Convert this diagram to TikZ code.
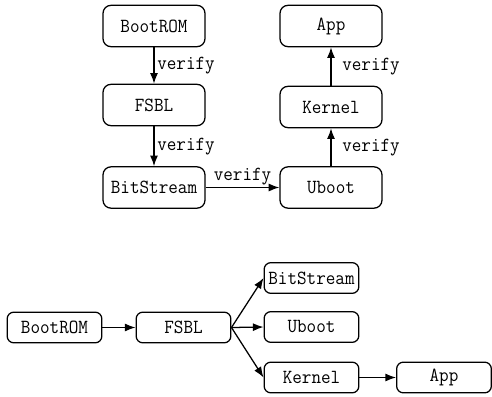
\documentclass[tikz,border=0pt]{standalone}
\usetikzlibrary{arrows.meta}
\newcommand{\nt}[1]{\scalebox{0.93}[1]{#1}}
\begin{document}
\begin{tikzpicture}[x=0.75pt,y=-0.75pt,
  every node/.style={font=\ttfamily\fontsize{15}{17}\selectfont},
  bigbox/.style={draw,line width=0.95pt,rounded corners=6pt,minimum width=76.5pt,minimum height=31pt,inner sep=0pt},
  smallbox/.style={draw,line width=0.95pt,rounded corners=5pt,minimum width=71pt,minimum height=23pt,inner sep=0pt},
  arr/.style={line width=0.95pt,-{Latex[length=8pt,width=6pt]}},
  lbl/.style={inner sep=2pt}]
\useasboundingbox (0,0) rectangle (492,396);

% secure boot chain with verification
\node[bigbox] (rom)  at (154,26)    {\nt{BootROM}};
\node[bigbox] (fsbl) at (154,105)   {\nt{FSBL}};
\node[bigbox] (bit)  at (154,187.5) {\nt{BitStream}};
\node[bigbox] (ub)   at (331,187.5) {\nt{Uboot}};
\node[bigbox] (ker)  at (331,107)   {\nt{Kernel}};
\node[bigbox] (app)  at (331,26)    {\nt{App}};

\draw[arr] (rom)  -- node[lbl,right] {\nt{verify}} (fsbl);
\draw[arr] (fsbl) -- node[lbl,right] {\nt{verify}} (bit);
\draw[arr] (bit)  -- node[lbl,above,yshift=-1pt] {\nt{verify}} (ub);
\draw[arr] (ub)   -- node[lbl,right,xshift=6pt] {\nt{verify}} (ker);
\draw[arr] (ker)  -- node[lbl,right,xshift=6pt] {\nt{verify}} (app);

% loading order
\node[smallbox] (rom2)  at (54.5,327.5)  {\nt{BootROM}};
\node[smallbox] (fsbl2) at (183.5,327.5) {\nt{FSBL}};
\node[smallbox] (bit2)  at (311.5,278)   {\nt{BitStream}};
\node[smallbox] (ub2)   at (311.5,327)   {\nt{Uboot}};
\node[smallbox] (ker2)  at (311.5,377.5) {\nt{Kernel}};
\node[smallbox] (app2)  at (444,377.5)   {\nt{App}};

\draw[arr] (rom2.east)  -- (fsbl2.west);
\draw[arr] (fsbl2.east) -- (bit2.west);
\draw[arr] (fsbl2.east) -- (ub2.west);
\draw[arr] (fsbl2.east) -- (ker2.west);
\draw[arr] (ker2.east)  -- (app2.west);
\end{tikzpicture}
\end{document}
